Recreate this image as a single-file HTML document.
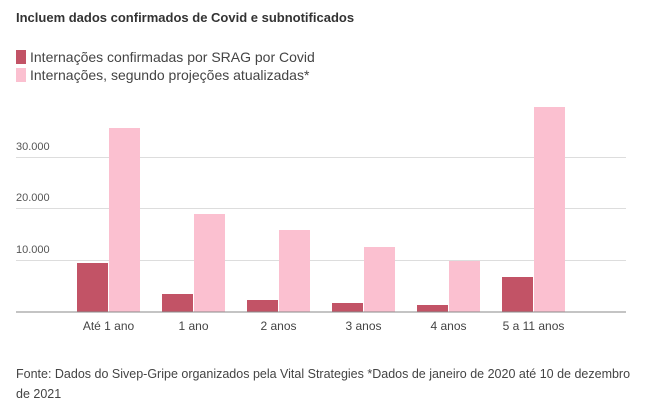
<!DOCTYPE html>
<html><head><meta charset="utf-8"><style>
body{margin:0;background:#fff;width:646px;height:420px;overflow:hidden;font-family:"Liberation Sans",sans-serif}
.t{position:absolute;left:16px;top:10px;font-size:13px;font-weight:bold;color:#333}
.lg{position:absolute;left:16px;font-size:14px;color:#444}
.lg i{display:inline-block;width:10px;height:14px;margin-right:4px;vertical-align:-2px}
.f{position:absolute;left:16px;top:364px;width:620px;font-size:12.5px;line-height:20px;color:#444}
</style></head><body>
<div class="t">Incluem dados confirmados de Covid e subnotificados</div>
<div class="lg" style="top:49px"><i style="background:#c25366"></i>Internações confirmadas por SRAG por Covid</div>
<div class="lg" style="top:67px"><i style="background:#fbc0d0"></i>Internações, segundo projeções atualizadas*</div>
<svg width="646" height="420" style="position:absolute;left:0;top:0">
<g stroke="#ddd" stroke-width="1">
<line x1="16" x2="626" y1="157.5" y2="157.5"/><line x1="16" x2="626" y1="208.5" y2="208.5"/><line x1="16" x2="626" y1="260.5" y2="260.5"/>
</g>
<g font-size="11" fill="#555" font-family="Liberation Sans,sans-serif">
<text x="16" y="150">30.000</text><text x="16" y="201">20.000</text><text x="16" y="253">10.000</text>
</g>
<g fill="#c25366">
<rect x="77" y="263" width="31" height="49"/><rect x="162" y="294" width="31" height="18"/><rect x="247" y="300" width="31" height="12"/>
<rect x="332" y="303" width="31" height="9"/><rect x="417" y="305" width="31" height="7"/><rect x="502" y="277" width="31" height="35"/>
</g>
<g fill="#fbc0d0">
<rect x="109" y="128" width="31" height="184"/><rect x="194" y="214" width="31" height="98"/><rect x="279" y="230" width="31" height="82"/>
<rect x="364" y="247" width="31" height="65"/><rect x="449" y="261" width="31" height="51"/><rect x="534" y="107" width="31" height="205"/>
</g>
<line x1="16" x2="626" y1="312" y2="312" stroke="#888" stroke-width="1"/>
<g font-size="12" fill="#444" text-anchor="middle" font-family="Liberation Sans,sans-serif">
<text x="108.5" y="330">Até 1 ano</text><text x="193.5" y="330">1 ano</text><text x="278.5" y="330">2 anos</text>
<text x="363.5" y="330">3 anos</text><text x="448.5" y="330">4 anos</text><text x="533.5" y="330">5 a 11 anos</text>
</g>
</svg>
<div class="f">Fonte: Dados do Sivep-Gripe organizados pela Vital Strategies *Dados de janeiro de 2020 até 10 de dezembro de 2021</div>
</body></html>
